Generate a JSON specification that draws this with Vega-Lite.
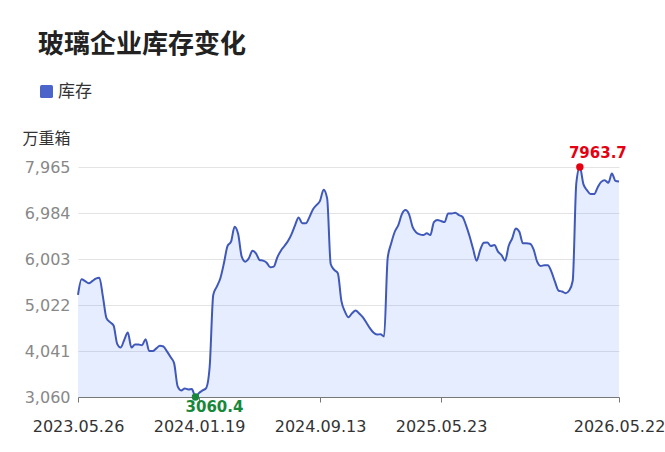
{
  "$schema": "https://vega.github.io/schema/vega-lite/v6.json",
  "width": 541,
  "height": 230,
  "autosize": {"type": "none"},
  "padding": {"left": 78, "top": 167, "right": 46, "bottom": 55},
  "background": "white",
  "title": {
    "text": "玻璃企业库存变化",
    "anchor": "start",
    "frame": "group",
    "dx": -40,
    "offset": 25,
    "font": "Noto Sans CJK SC",
    "fontSize": 26,
    "fontWeight": "bold",
    "color": "#222222"
  },
  "config": {
    "view": {"stroke": null},
    "font": "DejaVu Sans"
  },
  "data": {
    "values": [
      {"d": "2023.05.26", "v": 5237}, {"d": "2023.06.02", "v": 5571}, {"d": "2023.06.09", "v": 5530},
      {"d": "2023.06.16", "v": 5486}, {"d": "2023.06.23", "v": 5530}, {"d": "2023.06.30", "v": 5585},
      {"d": "2023.07.07", "v": 5605}, {"d": "2023.07.14", "v": 5201}, {"d": "2023.07.21", "v": 4741},
      {"d": "2023.07.28", "v": 4656}, {"d": "2023.08.04", "v": 4584}, {"d": "2023.08.11", "v": 4194},
      {"d": "2023.08.18", "v": 4116}, {"d": "2023.08.25", "v": 4279}, {"d": "2023.09.01", "v": 4435},
      {"d": "2023.09.08", "v": 4116}, {"d": "2023.09.15", "v": 4179}, {"d": "2023.09.22", "v": 4179},
      {"d": "2023.09.29", "v": 4165}, {"d": "2023.10.06", "v": 4294}, {"d": "2023.10.13", "v": 4039},
      {"d": "2023.10.20", "v": 4039}, {"d": "2023.10.27", "v": 4096}, {"d": "2023.11.03", "v": 4152},
      {"d": "2023.11.10", "v": 4138}, {"d": "2023.11.17", "v": 4032}, {"d": "2023.11.24", "v": 3911},
      {"d": "2023.12.01", "v": 3783}, {"d": "2023.12.08", "v": 3286}, {"d": "2023.12.15", "v": 3200},
      {"d": "2023.12.22", "v": 3243}, {"d": "2023.12.29", "v": 3222}, {"d": "2024.01.05", "v": 3229},
      {"d": "2024.01.12", "v": 3060.4}, {"d": "2024.01.19", "v": 3145}, {"d": "2024.01.26", "v": 3200},
      {"d": "2024.02.02", "v": 3251}, {"d": "2024.02.09", "v": 3711}, {"d": "2024.02.16", "v": 5237},
      {"d": "2024.02.23", "v": 5413}, {"d": "2024.03.01", "v": 5592}, {"d": "2024.03.08", "v": 5912},
      {"d": "2024.03.15", "v": 6280}, {"d": "2024.03.22", "v": 6372}, {"d": "2024.03.29", "v": 6690},
      {"d": "2024.04.05", "v": 6535}, {"d": "2024.04.12", "v": 6052}, {"d": "2024.04.19", "v": 5946},
      {"d": "2024.04.26", "v": 6018}, {"d": "2024.05.03", "v": 6180}, {"d": "2024.05.10", "v": 6124},
      {"d": "2024.05.17", "v": 5982}, {"d": "2024.05.24", "v": 5967}, {"d": "2024.05.31", "v": 5924},
      {"d": "2024.06.07", "v": 5826}, {"d": "2024.06.14", "v": 5840}, {"d": "2024.06.21", "v": 6039},
      {"d": "2024.06.28", "v": 6180}, {"d": "2024.07.05", "v": 6280}, {"d": "2024.07.12", "v": 6386},
      {"d": "2024.07.19", "v": 6535}, {"d": "2024.07.26", "v": 6727}, {"d": "2024.08.02", "v": 6890},
      {"d": "2024.08.09", "v": 6763}, {"d": "2024.08.16", "v": 6763}, {"d": "2024.08.23", "v": 6890},
      {"d": "2024.08.30", "v": 7061}, {"d": "2024.09.06", "v": 7152}, {"d": "2024.09.13", "v": 7244},
      {"d": "2024.09.20", "v": 7480}, {"d": "2024.09.27", "v": 7295}, {"d": "2024.10.11", "v": 5897},
      {"d": "2024.10.18", "v": 5769}, {"d": "2024.10.25", "v": 5699}, {"d": "2024.11.01", "v": 5110},
      {"d": "2024.11.08", "v": 4882}, {"d": "2024.11.15", "v": 4762}, {"d": "2024.11.22", "v": 4847},
      {"d": "2024.11.29", "v": 4903}, {"d": "2024.12.06", "v": 4840}, {"d": "2024.12.13", "v": 4762},
      {"d": "2024.12.20", "v": 4648}, {"d": "2024.12.27", "v": 4528}, {"d": "2025.01.03", "v": 4435},
      {"d": "2025.01.10", "v": 4392}, {"d": "2025.01.17", "v": 4399}, {"d": "2025.01.24", "v": 4350},
      {"d": "2025.02.07", "v": 6018}, {"d": "2025.02.14", "v": 6337}, {"d": "2025.02.21", "v": 6584},
      {"d": "2025.02.28", "v": 6727}, {"d": "2025.03.07", "v": 6960}, {"d": "2025.03.14", "v": 7046},
      {"d": "2025.03.21", "v": 6960}, {"d": "2025.03.28", "v": 6690}, {"d": "2025.04.04", "v": 6571},
      {"d": "2025.04.11", "v": 6529}, {"d": "2025.04.18", "v": 6514}, {"d": "2025.04.25", "v": 6550},
      {"d": "2025.05.02", "v": 6514}, {"d": "2025.05.09", "v": 6790}, {"d": "2025.05.16", "v": 6833},
      {"d": "2025.05.23", "v": 6812}, {"d": "2025.05.30", "v": 6790}, {"d": "2025.06.06", "v": 6975},
      {"d": "2025.06.13", "v": 6975}, {"d": "2025.06.20", "v": 6989}, {"d": "2025.06.27", "v": 6939},
      {"d": "2025.07.04", "v": 6903}, {"d": "2025.07.11", "v": 6727}, {"d": "2025.07.18", "v": 6493},
      {"d": "2025.07.25", "v": 6222}, {"d": "2025.08.01", "v": 5967}, {"d": "2025.08.08", "v": 6195},
      {"d": "2025.08.15", "v": 6350}, {"d": "2025.08.22", "v": 6357}, {"d": "2025.08.29", "v": 6280},
      {"d": "2025.09.05", "v": 6300}, {"d": "2025.09.12", "v": 6159}, {"d": "2025.09.19", "v": 6088},
      {"d": "2025.09.26", "v": 5967}, {"d": "2025.10.10", "v": 6280}, {"d": "2025.10.17", "v": 6443},
      {"d": "2025.10.24", "v": 6656}, {"d": "2025.10.31", "v": 6584}, {"d": "2025.11.07", "v": 6337},
      {"d": "2025.11.14", "v": 6337}, {"d": "2025.11.21", "v": 6330}, {"d": "2025.11.28", "v": 6209},
      {"d": "2025.12.05", "v": 5946}, {"d": "2025.12.12", "v": 5854}, {"d": "2025.12.19", "v": 5868},
      {"d": "2025.12.26", "v": 5868}, {"d": "2026.01.02", "v": 5733}, {"d": "2026.01.09", "v": 5520},
      {"d": "2026.01.16", "v": 5330}, {"d": "2026.01.23", "v": 5310}, {"d": "2026.01.30", "v": 5273},
      {"d": "2026.02.06", "v": 5330}, {"d": "2026.02.13", "v": 5540}, {"d": "2026.02.27", "v": 7614},
      {"d": "2026.03.06", "v": 7963.7}, {"d": "2026.03.13", "v": 7600}, {"d": "2026.03.20", "v": 7471},
      {"d": "2026.03.27", "v": 7387}, {"d": "2026.04.03", "v": 7387}, {"d": "2026.04.10", "v": 7529},
      {"d": "2026.04.17", "v": 7648}, {"d": "2026.04.24", "v": 7684}, {"d": "2026.05.01", "v": 7628},
      {"d": "2026.05.08", "v": 7827}, {"d": "2026.05.15", "v": 7670}, {"d": "2026.05.22", "v": 7656}
    ]
  },
  "encoding": {
    "x": {
      "field": "d",
      "type": "ordinal",
      "sort": null,
      "scale": {"type": "point", "padding": 0},
      "axis": {
        "title": null,
        "values": ["2023.05.26", "2024.01.19", "2024.09.13", "2025.05.23", "2026.05.22"],
        "labelAngle": 0,
        "labelFontSize": 16,
        "labelColor": "#333333",
        "labelFont": "DejaVu Sans",
        "labelPadding": 16,
        "labelOverlap": false,
        "labelBound": false,
        "labelFlush": false,
        "domainColor": "#777777",
        "domainWidth": 1,
        "tickColor": "#777777",
        "tickSize": 5,
        "grid": false
      }
    },
    "y": {
      "field": "v",
      "type": "quantitative",
      "scale": {"domain": [3060, 7965], "nice": false, "zero": false},
      "axis": {
        "title": "万重箱",
        "titleAngle": 0,
        "titleX": -32,
        "titleY": -29,
        "titleAlign": "center",
        "titleBaseline": "middle",
        "titleFont": "Noto Sans CJK SC",
        "titleFontSize": 16,
        "titleFontWeight": "normal",
        "titleColor": "#333333",
        "values": [3060, 4041, 5022, 6003, 6984, 7965],
        "format": ",.0f",
        "labelFontSize": 16,
        "labelColor": "#888888",
        "labelFont": "DejaVu Sans",
        "labelPadding": 8,
        "ticks": false,
        "domain": false,
        "grid": true,
        "gridColor": "#e3e3e3",
        "gridWidth": 1
      }
    }
  },
  "layer": [
    {
      "mark": {"type": "area", "interpolate": "monotone", "color": "#5b8ff9", "opacity": 0.16, "clip": true},
      "encoding": {"y2": {"datum": 3060}}
    },
    {
      "mark": {"type": "line", "interpolate": "monotone", "strokeWidth": 2},
      "encoding": {
        "color": {
          "datum": "库存",
          "scale": {"range": ["#3f58b9"]},
          "legend": {
            "title": null,
            "orient": "none",
            "legendX": -40,
            "legendY": -84,
            "padding": 0,
            "symbolType": "M-0.75,-1L0.75,-1Q1,-1 1,-0.75L1,0.75Q1,1 0.75,1L-0.75,1Q-1,1 -1,0.75L-1,-0.75Q-1,-1 -0.75,-1Z",
            "symbolSize": 169,
            "labelFont": "Noto Sans CJK SC",
            "labelFontSize": 17,
            "labelColor": "#333333",
            "labelOffset": 3,
            "encode": {
              "symbols": {
                "update": {
                  "fill": {"value": "#4a64c9"},
                  "stroke": {"value": "#4a64c9"},
                  "strokeWidth": {"value": 0},
                  "opacity": {"value": 1}
                }
              }
            }
          }
        }
      }
    },
    {
      "transform": [
        {"joinaggregate": [{"op": "min", "field": "v", "as": "mn"}]},
        {"filter": "datum.v === datum.mn"}
      ],
      "layer": [
        {"mark": {"type": "point", "filled": true, "size": 55, "color": "#18873a", "opacity": 1}},
        {
          "mark": {"type": "text", "dx": 19, "dy": 10, "align": "center", "baseline": "middle", "fontSize": 15, "fontWeight": "bold", "font": "DejaVu Sans", "color": "#18873a"},
          "encoding": {"text": {"field": "v", "type": "quantitative", "format": ".1f"}}
        }
      ]
    },
    {
      "transform": [
        {"joinaggregate": [{"op": "max", "field": "v", "as": "mx"}]},
        {"filter": "datum.v === datum.mx"}
      ],
      "layer": [
        {"mark": {"type": "point", "filled": true, "size": 55, "color": "#e60012", "opacity": 1}},
        {
          "mark": {"type": "text", "dx": 18, "dy": -14, "align": "center", "baseline": "middle", "fontSize": 15, "fontWeight": "bold", "font": "DejaVu Sans", "color": "#e60012"},
          "encoding": {"text": {"field": "v", "type": "quantitative", "format": ".1f"}}
        }
      ]
    }
  ]
}
